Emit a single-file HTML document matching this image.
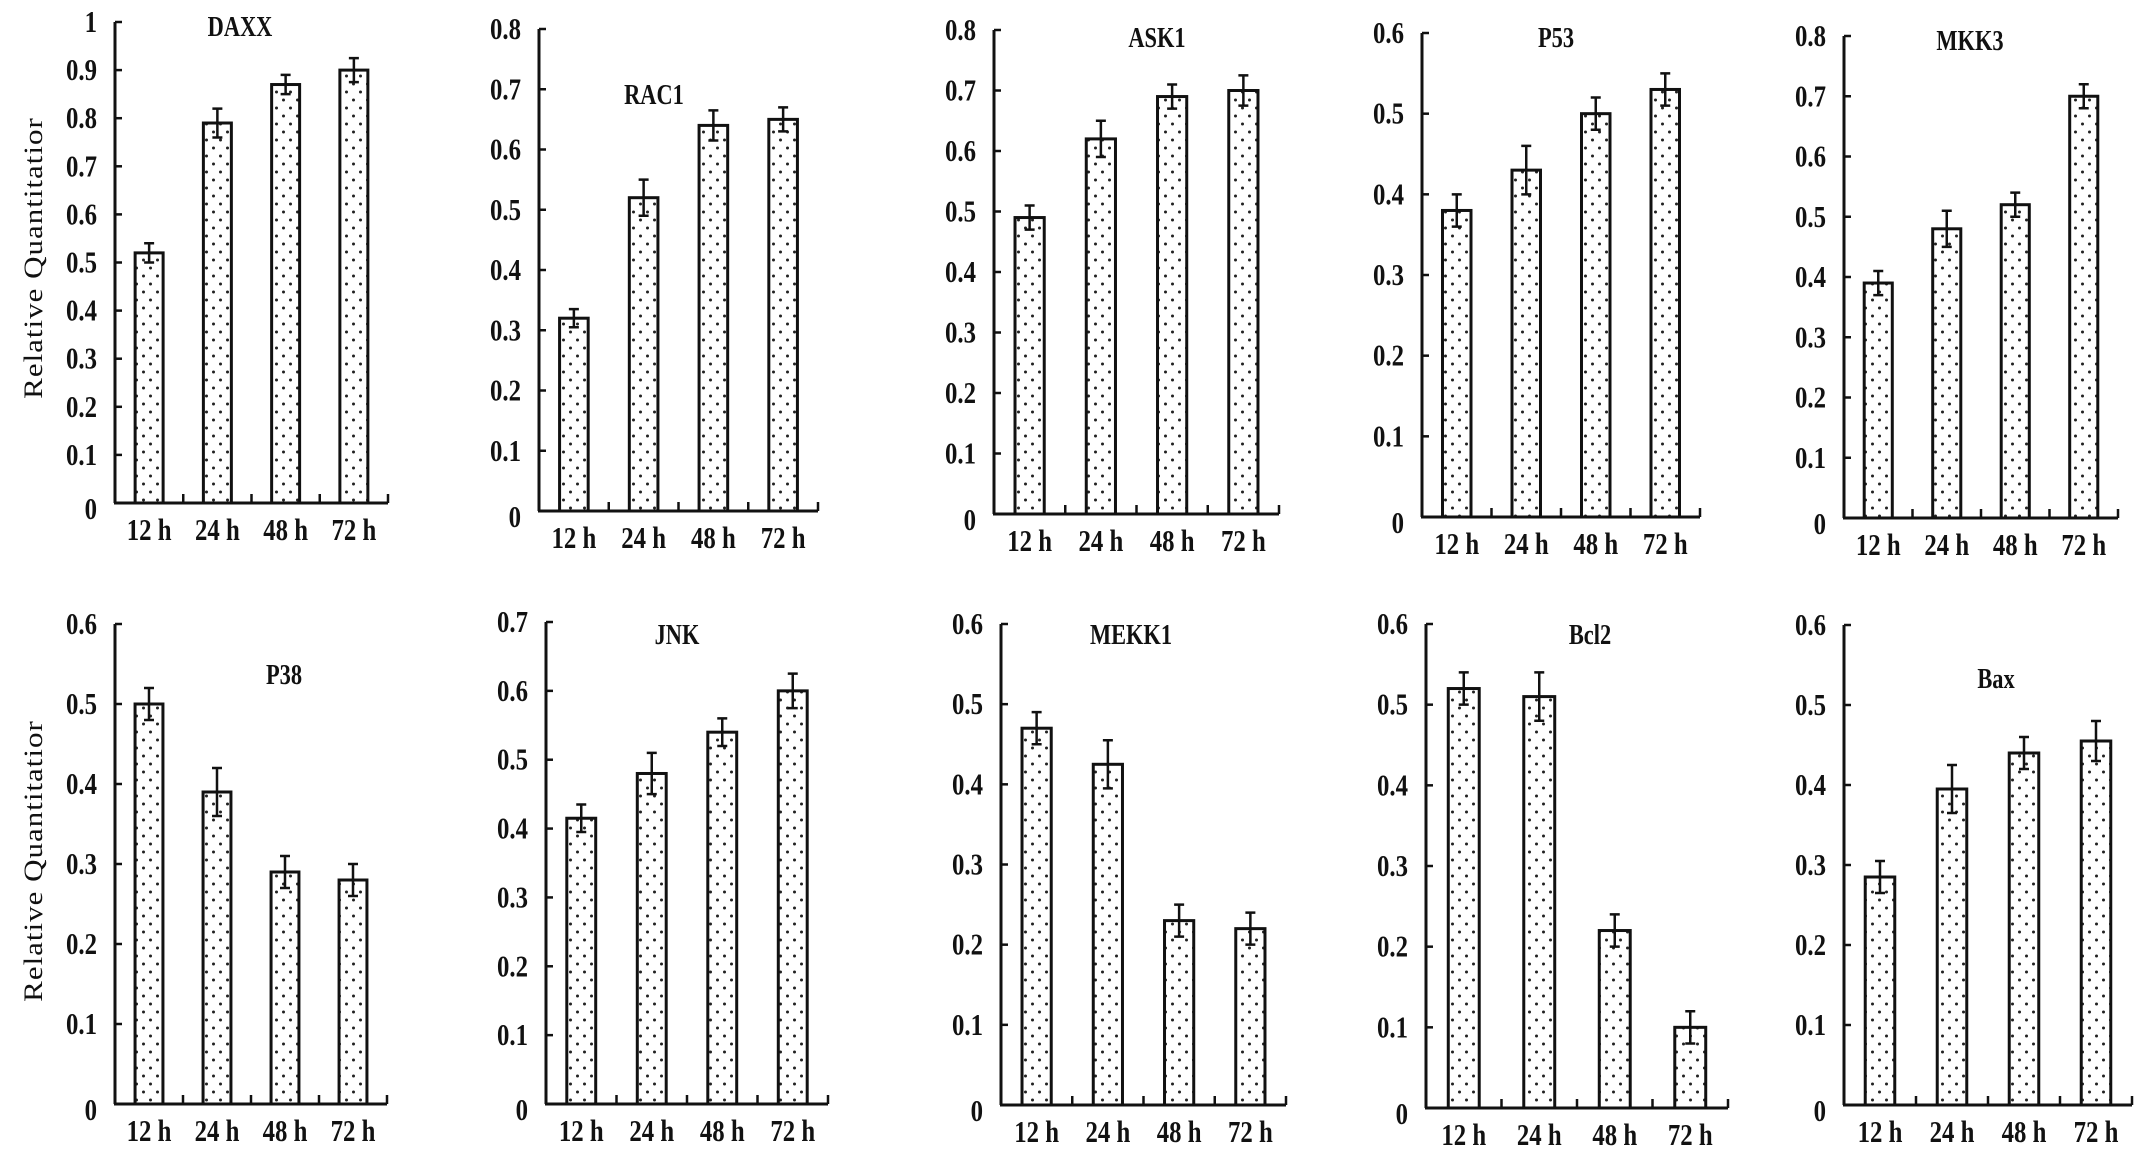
<!DOCTYPE html>
<html><head><meta charset="utf-8"><style>
html,body{margin:0;padding:0;background:#fff;}
svg{display:block;}
text{font-family:"Liberation Serif",serif;font-weight:bold;fill:#111;}
</style></head><body>
<svg id="fig" width="2150" height="1157" viewBox="0 0 2150 1157" xmlns="http://www.w3.org/2000/svg">
<defs>
<pattern id="dots" width="14" height="16" patternUnits="userSpaceOnUse">
<rect width="14" height="16" fill="#fff"/>
<circle cx="3.5" cy="4" r="1.5" fill="#222"/>
<circle cx="10.5" cy="12" r="1.5" fill="#222"/>
</pattern>
</defs>
<text transform="translate(42,258) rotate(-90) scale(1,0.85)" text-anchor="middle" font-size="31" style="font-weight:normal" letter-spacing="1">Relative  Quantitatior</text>
<text transform="translate(42,861) rotate(-90) scale(1,0.85)" text-anchor="middle" font-size="31" style="font-weight:normal" letter-spacing="1">Relative  Quantitatior</text>
</svg>
<script>
const categories = ["12 h","24 h","48 h","72 h"];
const genes = ["DAXX","RAC1","ASK1","P53","MKK3","P38","JNK","MEKK1","Bcl2","Bax"];
const vDAXX = [0.52,0.79,0.87,0.90];
const eDAXX = [0.02,0.03,0.02,0.025];
const vRAC1 = [0.32,0.52,0.64,0.65];
const eRAC1 = [0.015,0.03,0.025,0.02];
const vASK1 = [0.49,0.62,0.69,0.70];
const eASK1 = [0.02,0.03,0.02,0.025];
const vP53 = [0.38,0.43,0.50,0.53];
const eP53 = [0.02,0.03,0.02,0.02];
const vMKK3 = [0.39,0.48,0.52,0.70];
const eMKK3 = [0.02,0.03,0.02,0.02];
const vP38 = [0.50,0.39,0.29,0.28];
const eP38 = [0.02,0.03,0.02,0.02];
const vJNK = [0.415,0.48,0.54,0.60];
const eJNK = [0.02,0.03,0.02,0.025];
const vMEKK1 = [0.47,0.425,0.23,0.22];
const eMEKK1 = [0.02,0.03,0.02,0.02];
const vBcl2 = [0.52,0.51,0.22,0.10];
const eBcl2 = [0.02,0.03,0.02,0.02];
const vBax = [0.285,0.395,0.44,0.455];
const eBax = [0.02,0.03,0.02,0.025];
const yMaxes = [1.0,0.8,0.8,0.6,0.8,0.6,0.7,0.6,0.6,0.6];
const values = [vDAXX,vRAC1,vASK1,vP53,vMKK3,vP38,vJNK,vMEKK1,vBcl2,vBax];
const errors = [eDAXX,eRAC1,eASK1,eP53,eMKK3,eP38,eJNK,eMEKK1,eBcl2,eBax];
// layout: [axisX, topY, zeroY, xEnd, titleX, titleY]
const layout = [
 [115,22,503,388,240,36],
 [539,29,511,818,654,104],
 [994,30,514,1279,1157,47],
 [1422,33,517,1700,1556,47],
 [1844,36,518,2118,1970,50],
 [115,624,1104,387,284,684],
 [546,622,1104,828,677,644],
 [1001,624,1105,1286,1131,644],
 [1426,624,1108,1728,1590,644],
 [1844,625,1105,2132,1996,688]
];
const NS="http://www.w3.org/2000/svg";
const svg=document.getElementById('fig');
function mk(tag,attrs,parent){const e=document.createElementNS(NS,tag);for(const k in attrs)e.setAttribute(k,attrs[k]);(parent||svg).appendChild(e);return e;}
function ctext(x,y,anchor,size,str,parent){
  const e=mk('text',{x:0,y:0,'text-anchor':anchor,'font-size':size,transform:`translate(${x},${y}) scale(0.8,1)`},parent);
  e.textContent=str;return e;
}
genes.forEach((g,i)=>{
  const [x0,yT,y0,x1,tx,ty]=layout[i];
  const ymax=yMaxes[i];
  const yS=v=>y0-(v/ymax)*(y0-yT);
  const cw=(x1-x0)/4;
  const xS=c=>x0+cw*(c+0.5);
  const bw=cw*0.41;
  const grp=mk('g',{});
  
  
  const t=ctext(tx,ty,'middle',28,g,grp);
  
  
  const ya=mk('line',{x1:x0,y1:yT,x2:x0,y2:y0,stroke:'#111','stroke-width':3},grp);
  
  
  const xa=mk('line',{x1:x0-1,y1:y0,x2:x1,y2:y0,stroke:'#111','stroke-width':3},grp);
  
  
  const n=Math.round(ymax*10);
  for(let k=0;k<=n;k++){
    const v=k/10, y=yS(v);
    if(k>0){const tk=mk('line',{x1:x0,y1:y,x2:x0+7,y2:y,stroke:'#111','stroke-width':2.5},grp);
      
      }
    const lb=ctext(x0-18,y+(k===0?16:10),'end',31,(v===1?'1':(k===0?'0':v.toFixed(1))),grp);
    
    
  }
  for(let c=1;c<=4;c++){const xx=x0+cw*c;
    const tk=mk('line',{x1:xx,y1:y0,x2:xx,y2:y0-9,stroke:'#111','stroke-width':2.5},grp);
    
    }
  categories.forEach((cat,c)=>{
    const v=values[i][c], e=errors[i][c], cx=xS(c);
    const b=mk('rect',{x:cx-bw/2,y:yS(v),width:bw,height:y0-yS(v),fill:'url(#dots)',stroke:'#111','stroke-width':3},grp);
    
    
    const eb=mk('path',{d:`M${cx},${yS(v+e)}V${yS(v-e)}M${cx-5},${yS(v+e)}H${cx+5}M${cx-5},${yS(v-e)}H${cx+5}`,stroke:'#111','stroke-width':2.5,fill:'none'},grp);
    
    
    const xl=ctext(cx,y0+37,'middle',31,cat,grp);
    
    
  });
});
</script>
</body></html>
